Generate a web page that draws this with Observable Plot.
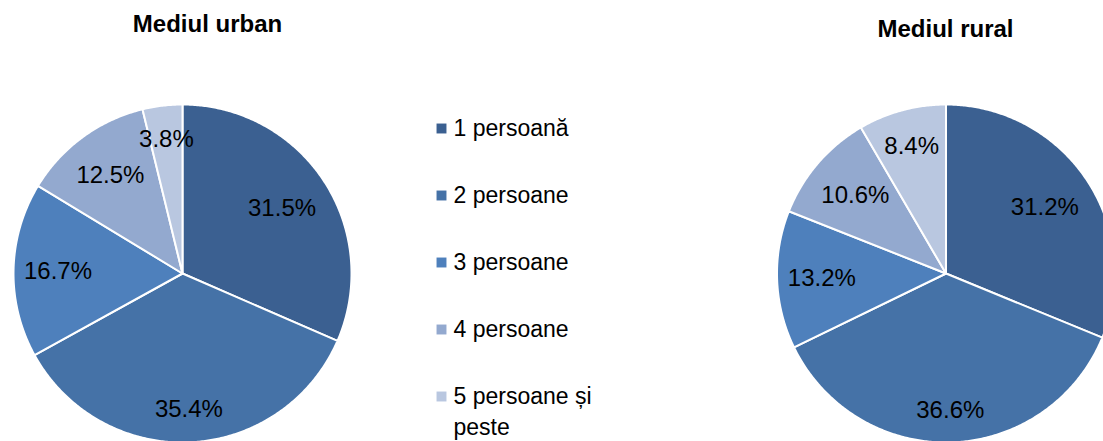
<!DOCTYPE html>
<html>
<head>
<meta charset="utf-8">
<script src="https://cdn.jsdelivr.net/npm/d3@7"></script>
<script src="https://cdn.jsdelivr.net/npm/@observablehq/plot@0.6"></script>
<style>
  html, body { margin: 0; padding: 0; background: #fff; }
  #chart svg { display: block; font-family: "Liberation Sans", Arial, sans-serif; }
</style>
</head>
<body>
<div id="chart"></div>
<script>
// ---- data ----
const categories = ["1 persoană", "2 persoane", "3 persoane", "4 persoane", "5 persoane și peste"];
const urbanValues = [31.5, 35.4, 16.7, 12.5, 3.8];
const ruralValues = [31.2, 36.6, 13.2, 10.6, 8.4];
const chartTitles = ["Mediul urban", "Mediul rural"];
const sliceColors = ["#3B6091", "#4572A7", "#4E80BC", "#93A9CF", "#B9C7E0"];

// ---- layout ----
const W = 1103, H = 441;
const fontFamily = "'Liberation Sans', Arial, sans-serif";
const labelSize = 24;
const legendSize = 23;
const pies = [
  {title: chartTitles[0], values: urbanValues, cx: 182, cy: 273, r: 169, tx: 207, ty: 24},
  {title: chartTitles[1], values: ruralValues, cx: 945.5, cy: 273, r: 169, tx: 945, ty: 28.5}
];
const legend = {x: 441, textX: 453, y0: 128, step: 67};

// ---- build geometry from the values ----
const slicePts = [];
const labels = [];
pies.forEach((p, pi) => {
  const total = d3.sum(p.values);
  let acc = 0;
  p.values.forEach((v, i) => {
    const a0 = acc / total * 2 * Math.PI;
    acc += v;
    const a1 = acc / total * 2 * Math.PI;
    const key = pi + "-" + i;
    slicePts.push({key, cat: categories[i], x: p.cx, y: p.cy});
    const n = Math.max(2, Math.ceil((a1 - a0) / (Math.PI / 360)));
    for (let k = 0; k <= n; k++) {
      const a = a0 + (a1 - a0) * k / n;
      slicePts.push({key, cat: categories[i], x: p.cx + p.r * Math.sin(a), y: p.cy - p.r * Math.cos(a)});
    }
    // label placement: keep the text box inside the slice near the rim
    const text = v.toFixed(1) + "%";
    const am = (a0 + a1) / 2;
    const ux = Math.sin(am), uy = -Math.cos(am);
    const hw = ((text.length - 2) * 0.556 + 0.278 + 0.889) * labelSize / 2;
    const hh = 21;
    const d = p.r - 10 - Math.abs(ux) * hw - Math.abs(uy) * hh;
    labels.push({text, x: p.cx + d * ux, y: p.cy + d * uy});
  });
});

const legendData = categories.map((c, i) => ({cat: c, x: legend.x, tx: legend.textX, y: legend.y0 + i * legend.step}));

const chart = Plot.plot({
  width: W,
  height: H,
  margin: 0,
  x: {domain: [0, W], range: [0, W], axis: null},
  y: {domain: [0, H], range: [0, H], axis: null},
  color: {domain: categories, range: sliceColors},
  style: {fontFamily, background: "#fff"},
  marks: [
    // faint rim shadow
    Plot.dot(pies, {x: "cx", y: "cy", r: p => p.r + 1, stroke: "#c8c8c8", strokeWidth: 1.5, fill: "none"}),
    Plot.line(slicePts, {
      x: "x", y: "y", z: "key", fill: "cat", stroke: "white", strokeWidth: 2,
      strokeLinejoin: "round", curve: "linear-closed"
    }),
    Plot.text(labels, {x: "x", y: "y", text: "text", fontSize: labelSize, fill: "#000", textAnchor: "middle"}),
    Plot.text(pies, {x: "tx", y: "ty", text: "title", fontSize: 24, fontWeight: "bold", fill: "#000"}),
    Plot.dot(legendData, {x: "x", y: "y", symbol: "square", r: 5.6, fill: "cat"}),
    Plot.text(legendData, {
      x: "tx", y: "y", text: "cat", fontSize: legendSize, fill: "#000", textAnchor: "start",
      lineAnchor: "top", dy: -15, lineWidth: 7, lineHeight: 1.35
    })
  ]
});
document.getElementById("chart").appendChild(chart);
</script>
</body>
</html>
